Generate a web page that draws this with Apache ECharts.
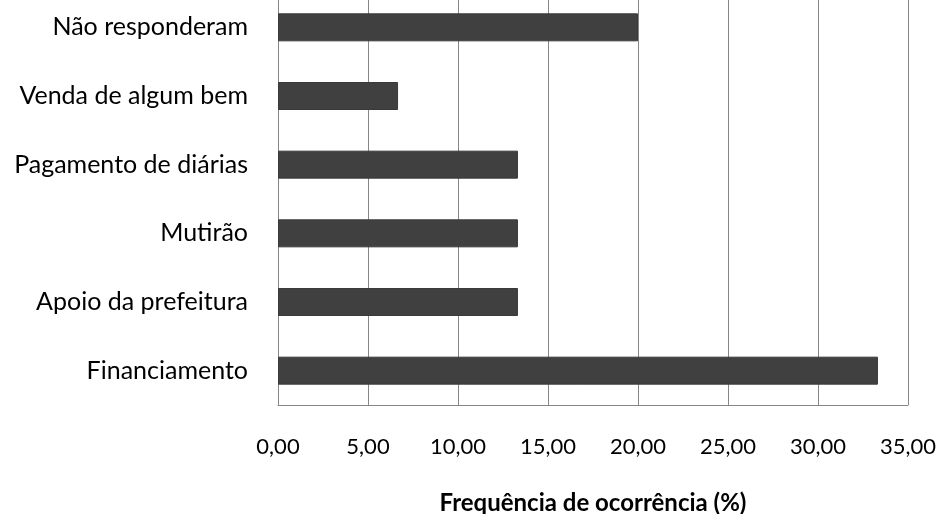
<!DOCTYPE html>
<html>
<head>
<meta charset="utf-8">
<script src="https://cdn.jsdelivr.net/npm/echarts@6/dist/echarts.min.js"></script>
<style>
  html, body { margin: 0; padding: 0; background: #ffffff; overflow: hidden; }
  /* the plot's top edge sits just above the page edge */
  #chart { position: absolute; left: 0; top: -7px; width: 943px; height: 521px; }
</style>
</head>
<body>
<div id="chart"></div>
<script>
// Categories listed bottom-to-top as drawn on the category axis
const categories = [
  'Financiamento',
  'Apoio da prefeitura',
  'Mutirão',
  'Pagamento de diárias',
  'Venda de algum bem',
  'Não responderam'
];
// Frequency of occurrence (%) for each category
const frequencies = [33.33, 13.33, 13.33, 13.33, 6.67, 20.00];
const axisTitle = 'Frequência de ocorrência (%)';

const chart = echarts.init(document.getElementById('chart'), null, {
  renderer: 'canvas', width: 943, height: 521
});

const fmt = v => v.toFixed(2).replace('.', ',');

chart.setOption({
  animation: false,
  backgroundColor: '#ffffff',
  grid: {
    left: 278, width: 630, top: 0, height: 412,
    containLabel: false,
    outerBoundsMode: 'none'
  },
  xAxis: {
    type: 'value',
    min: 0,
    max: 35,
    interval: 5,
    name: axisTitle,
    nameLocation: 'middle',
    nameGap: 86,
    nameTextStyle: { fontFamily: 'Lato', fontWeight: 'bold', fontSize: 24, color: '#000' },
    axisLine: { show: true, lineStyle: { color: '#868686', width: 1 } },
    axisTick: { show: false },
    axisLabel: {
      margin: 31,
      fontFamily: 'Lato',
      fontSize: 22,
      color: '#000',
      formatter: fmt
    },
    splitLine: { show: true, lineStyle: { color: '#868686', width: 1 } }
  },
  yAxis: {
    type: 'category',
    data: categories,
    axisLine: { show: true, lineStyle: { color: '#868686', width: 1 } },
    axisTick: { show: false },
    axisLabel: {
      margin: 30,
      fontFamily: 'Lato',
      fontSize: 25,
      color: '#000'
    }
  },
  series: [{
    type: 'bar',
    data: frequencies,
    barWidth: 28,
    itemStyle: { color: '#404040', borderColor: '#3a3a3a', borderWidth: 1 }
  }]
});
</script>
</body>
</html>
